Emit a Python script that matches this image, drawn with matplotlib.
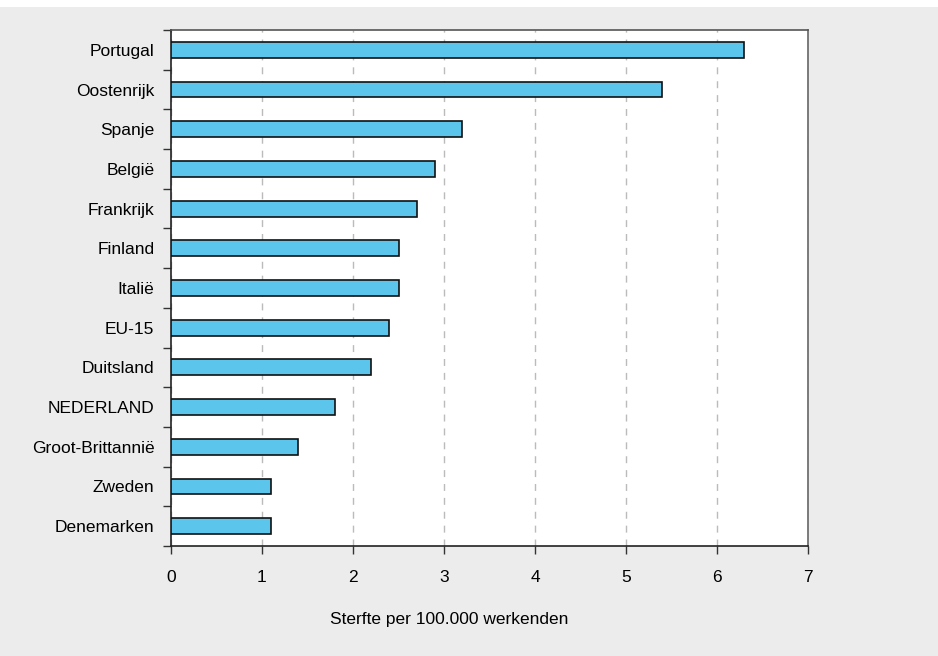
import matplotlib.pyplot as plt
from matplotlib.patches import Rectangle
import numpy as np

# data
landen = ['Portugal', 'Oostenrijk', 'Spanje', 'België', 'Frankrijk', 'Finland', 'Italië',
          'EU-15', 'Duitsland', 'NEDERLAND', 'Groot-Brittannië', 'Zweden', 'Denemarken']
sterfte = [6.3, 5.4, 3.2, 2.9, 2.7, 2.5, 2.5, 2.4, 2.2, 1.8, 1.4, 1.1, 1.1]
xticks = [0, 1, 2, 3, 4, 5, 6, 7]

plt.rcParams['font.family'] = ['Liberation Sans', 'DejaVu Sans']

fig = plt.figure(figsize=(9.38, 6.56), dpi=100)
fig.patch.set_facecolor('white')
# grijze achtergrond, witte strook bovenaan
fig.patches.append(Rectangle((0, 0), 1, 1 - 7 / 656, transform=fig.transFigure,
                             facecolor='#ebeceb', edgecolor='none', zorder=-10))

ax = fig.add_axes([171 / 938, 110 / 656, 637 / 938, 516 / 656])
ax.set_facecolor('white')

y = np.arange(len(landen))
ax.barh(y, sterfte, height=0.4, color='#5bc5eb', edgecolor='#111111', linewidth=1.2, zorder=3)

ax.set_ylim(len(landen) - 0.5, -0.5)
ax.set_xlim(0, 7)
ax.set_xticks(xticks)
ax.set_xticklabels([str(t) for t in xticks], fontsize=12.5)
ax.set_yticks(y)
ax.set_yticklabels(landen, fontsize=12.5)
ax.set_yticks(np.arange(len(landen) + 1) - 0.5, minor=True)
ax.tick_params(axis='y', which='major', length=0, pad=12)
ax.tick_params(axis='y', which='minor', length=6, width=1, color='#333333', direction='out')
ax.tick_params(axis='x', length=6, width=1, color='#333333', pad=11)

ax.grid(axis='x', linestyle=(0, (5, 5)), color='#bbbbbb', linewidth=1, zorder=1)

ax.spines['left'].set_color('#222222')
ax.spines['bottom'].set_color('#222222')
ax.spines['top'].set_color('#555555')
ax.spines['right'].set_color('#666666')
for s in ax.spines.values():
    s.set_linewidth(1.2)

ax.set_xlabel('Sterfte per 100.000 werkenden', fontsize=12.5)
# label staat iets links van het midden
ax.xaxis.set_label_coords(278 / 637, -0.127)

fig.savefig('out.png', dpi=100, facecolor=fig.get_facecolor())
